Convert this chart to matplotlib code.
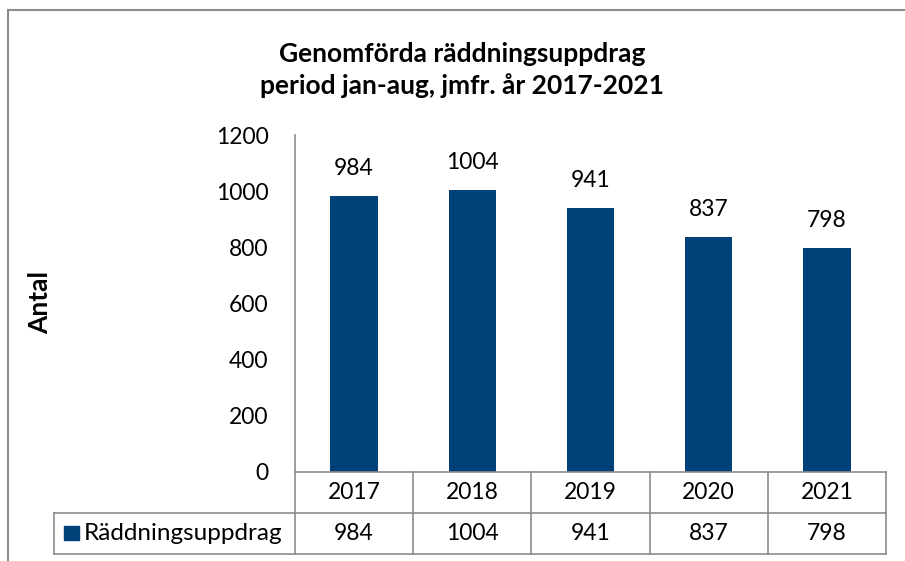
import matplotlib
matplotlib.use("Agg")
import matplotlib.pyplot as plt
import matplotlib.transforms as mtrans
from matplotlib.lines import Line2D
from matplotlib.patches import Rectangle

plt.rcParams['font.family'] = ['Lato', 'DejaVu Sans']

# data
years = ['2017', '2018', '2019', '2020', '2021']
antal = [984, 1004, 941, 837, 798]
serie = 'Räddningsuppdrag'
titel = 'Genomförda räddningsuppdrag\nperiod jan-aug, jmfr. år 2017-2021'

bar_color = '#00417A'
grid_grey = '#8C8C8C'
W, H = 905, 561

fig = plt.figure(figsize=(W / 100, H / 100), dpi=100)

# plot area in pixels: x 295..886, y 135..472
ax = fig.add_axes([295 / W, 1 - 472 / H, 591 / W, 337 / H])
x = list(range(len(years)))
bars = ax.bar(x, antal, width=0.40, color=bar_color)
ax.set_xlim(-0.5, len(years) - 0.5)
ax.set_ylim(0, 1200)
ax.set_yticks(range(0, 1201, 200))
ax.tick_params(axis='y', length=0, pad=19, labelsize=16.5)
ax.set_xticks([])
for s in ['top', 'right']:
    ax.spines[s].set_visible(False)
for s in ['left', 'bottom']:
    ax.spines[s].set_color(grid_grey)
    ax.spines[s].set_linewidth(1.2)

for xi, v in zip(x, antal):
    ax.annotate(str(v), (xi, v), xytext=(0, 12), textcoords='offset points',
                ha='center', va='bottom', fontsize=16.5)

# data table below the axis
row1 = (472 - 513) / 337
row2 = (472 - 554) / 337
leg_left = (54 - 295) / 591
trans = mtrans.blended_transform_factory(ax.transData, ax.transAxes)
lkw = dict(color=grid_grey, lw=1.2, clip_on=False)
for b in range(len(years) + 1):
    ax.add_line(Line2D([b - 0.5, b - 0.5], [0, row2], transform=trans, **lkw))
for yy in [row1, row2]:
    ax.add_line(Line2D([leg_left, 1], [yy, yy], transform=ax.transAxes, **lkw))
ax.add_line(Line2D([leg_left, leg_left], [row1, row2], transform=ax.transAxes, **lkw))
for xi, yr, v in zip(x, years, antal):
    ax.text(xi, row1 / 2, yr, transform=trans, ha='center', va='center', fontsize=16.5)
    ax.text(xi, (row1 + row2) / 2, str(v), transform=trans, ha='center', va='center',
            fontsize=16.5)

# legend key in table
fig.patches.append(Rectangle((64 / W, 1 - 540 / H), 15 / W, 14 / H,
                             transform=fig.transFigure, color=bar_color))
fig.text(84 / W, 1 - 533 / H, serie, ha='left', va='center', fontsize=17.5)

fig.text(40 / W, 1 - 302 / H, 'Antal', rotation=90, ha='center', va='center',
         fontsize=19, fontweight='bold')
fig.text(462 / W, 1 - 70 / H, titel, ha='center', va='center', fontsize=19,
         fontweight='bold', linespacing=1.35)

# chart frame
fig.add_artist(Line2D([8 / W, 1], [1 - 10 / H, 1 - 10 / H], transform=fig.transFigure,
                      color=grid_grey, lw=1.5))
fig.add_artist(Line2D([8 / W, 8 / W], [1 - 10 / H, 0], transform=fig.transFigure,
                      color=grid_grey, lw=1.5))

fig.savefig('out.png', dpi=100)
